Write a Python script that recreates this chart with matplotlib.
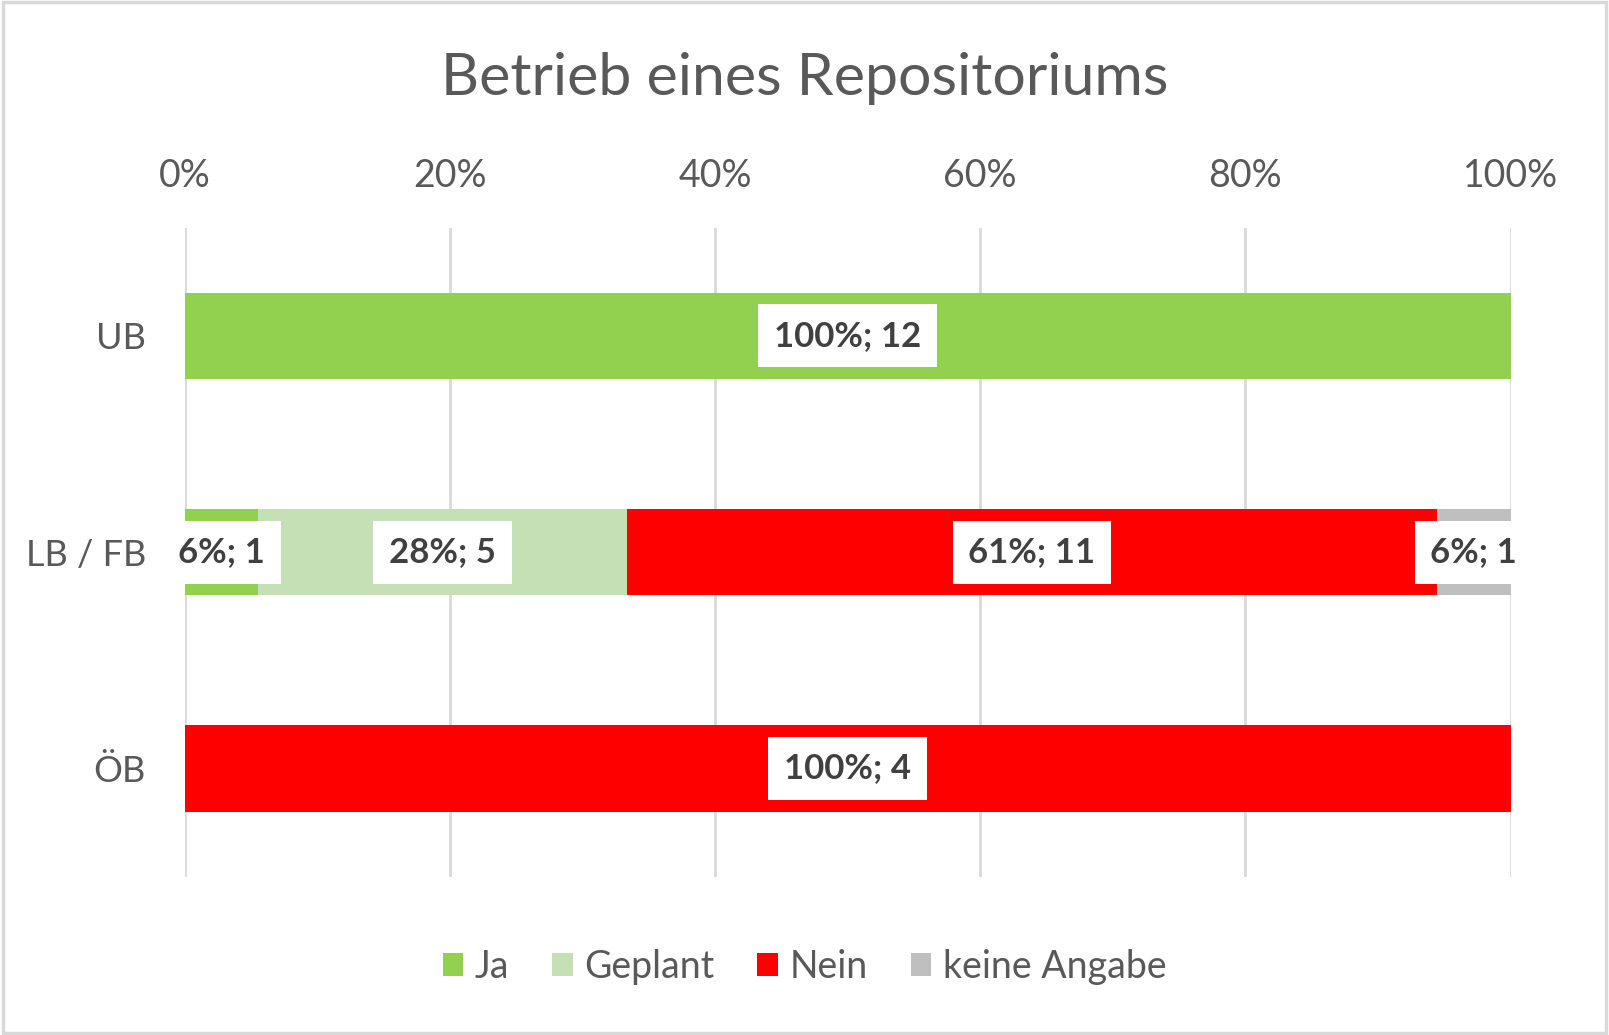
import matplotlib.pyplot as plt
from matplotlib.patches import Rectangle

# --- Data ---
categories = ["UB", "LB / FB", "ÖB"]
series_names = ["Ja", "Geplant", "Nein", "keine Angabe"]
counts_ja = [12, 1, 0]
counts_geplant = [0, 5, 0]
counts_nein = [0, 11, 4]
counts_keine = [0, 1, 0]
colors = ["#92D050", "#C5E0B4", "#FF0000", "#BFBFBF"]
x_ticks = [0, 20, 40, 60, 80, 100]

plt.rcParams['font.family'] = ['Lato', 'DejaVu Sans']
text_color = "#595959"

fig = plt.figure(figsize=(16.09, 10.35), dpi=100)
ax = fig.add_axes([0.1148, 0.153, 0.824, 0.627])

all_counts = [counts_ja, counts_geplant, counts_nein, counts_keine]
totals = [sum(c[i] for c in all_counts) for i in range(len(categories))]
ypos = list(range(len(categories)))

left = [0.0] * len(categories)
for name, cnt, col in zip(series_names, all_counts, colors):
    pct = [100.0 * c / t for c, t in zip(cnt, totals)]
    ax.barh(ypos, pct, left=left, height=0.4, color=col, label=name, zorder=2)
    for i, (p, c) in enumerate(zip(pct, cnt)):
        if c > 0:
            ax.text(left[i] + p / 2, ypos[i], f"{round(p):.0f}%; {c}",
                    ha='center', va='center', fontsize=25, fontweight='bold',
                    color="#404040", zorder=4,
                    bbox=dict(boxstyle='square,pad=0.45', fc='white', ec='none'))
    left = [l + p for l, p in zip(left, pct)]

ax.set_xlim(0, 100)
ax.set_ylim(len(categories) - 0.5, -0.5)
ax.set_yticks(ypos)
ax.set_yticklabels(categories)
ax.set_xticks(x_ticks)
ax.set_xticklabels([f"{t}%" for t in x_ticks])
ax.xaxis.tick_top()
ax.tick_params(axis='x', length=0, pad=24, labelsize=27, labelcolor=text_color)
ax.tick_params(axis='y', length=0, pad=28, labelsize=26, labelcolor=text_color)
ax.grid(axis='x', color='#D9D9D9', linewidth=2, zorder=0)
ax.set_axisbelow(True)
for s in ax.spines.values():
    s.set_visible(False)

fig.text(0.5, 0.924, "Betrieb eines Repositoriums", ha='center', va='center',
         fontsize=42.5, color=text_color)

fig.legend(loc='center', bbox_to_anchor=(0.5, 0.066), ncol=4, frameon=False,
           fontsize=27, labelcolor=text_color, handlelength=0.55, handleheight=0.55,
           handletextpad=0.3, columnspacing=1.15)

# light chart border
fig.patches.append(Rectangle((0.002, 0.002), 0.996, 0.996, transform=fig.transFigure,
                             fill=False, ec='#D9D9D9', lw=2.5))

fig.savefig("out.png", dpi=100)
